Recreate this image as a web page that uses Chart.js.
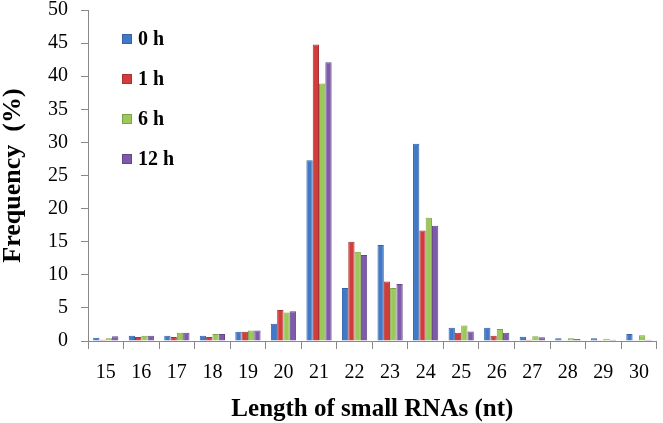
<!DOCTYPE html>
<html>
<head>
<meta charset="utf-8">
<script src="https://cdn.jsdelivr.net/npm/chart.js@4"></script>
<style>
  body { margin: 0; background: #fff; }
  #wrap { width: 663px; height: 423px; }
</style>
</head>
<body>
<div id="wrap"><canvas id="chart" width="663" height="423"></canvas></div>
<script>
// small RNA lengths (nt)
const lengths = ['15', '16', '17', '18', '19', '20', '21', '22', '23', '24', '25', '26', '27', '28', '29', '30'];

// frequency (%) per time point
const h0  = [0.5, 0.8, 0.8, 0.8, 1.4, 2.6, 27.3, 8.0, 14.5, 29.8, 2.0, 2.0, 0.65, 0.4, 0.4, 1.05];
const h1  = [0.2, 0.6, 0.6, 0.6, 1.4, 4.7, 44.8, 15.0, 9.0, 16.7, 1.25, 0.8, 0.2, 0.1, 0.1, 0.05];
const h6  = [0.4, 0.8, 1.25, 1.05, 1.6, 4.3, 38.9, 13.5, 8.0, 18.6, 2.35, 1.8, 0.7, 0.4, 0.35, 0.85];
const h12 = [0.7, 0.8, 1.25, 1.05, 1.6, 4.5, 42.1, 13.0, 8.6, 17.4, 1.45, 1.25, 0.55, 0.3, 0.2, 0.2];

const yTicks = [0, 5, 10, 15, 20, 25, 30, 35, 40, 45, 50];

const serif = "'Liberation Serif', 'Times New Roman', serif";

/*
 * legend drawn inside the plot, top-left, one item per row
 */
const innerLegend = {
  id: 'innerLegend',
  afterDraw(chart) {
    const ctx = chart.ctx;
    const area = chart.chartArea;
    ctx.save();
    ctx.font = 'bold 20px ' + serif;
    ctx.textBaseline = 'middle';
    chart.data.datasets.forEach((ds, i) => {
      const y = area.top + 29 + i * 40;
      const x = area.left + 34;
      ctx.fillStyle = ds.backgroundColor;
      ctx.fillRect(x, y - 5, 10, 10);
      ctx.strokeStyle = ds.borderColor;
      ctx.lineWidth = 1;
      ctx.strokeRect(x + 0.5, y - 4.5, 9, 9);
      ctx.fillStyle = '#000';
      ctx.fillText(ds.label, x + 16, y + 1);
    });
    ctx.restore();
  }
};

const makeSet = (label, data, fill, edge) => ({
  label: label,
  data: data,
  backgroundColor: fill,
  borderColor: edge,
  borderWidth: 1,
  categoryPercentage: 0.71,
  barPercentage: 1.0
});

new Chart(document.getElementById('chart').getContext('2d'), {
  type: 'bar',
  data: {
    labels: lengths,
    datasets: [
      makeSet('0 h', h0, '#4179c8', '#3563a6'),
      makeSet('1 h', h1, '#d23c3b', '#a83232'),
      makeSet('6 h', h6, '#9bc858', '#7ca446'),
      makeSet('12 h', h12, '#7d5baa', '#634689')
    ]
  },
  options: {
    responsive: false,
    animation: false,
    layout: {
      autoPadding: false,
      padding: { left: 0, right: 3, top: 10, bottom: 1 }
    },
    plugins: {
      legend: { display: false },
      tooltip: { enabled: false }
    },
    scales: {
      x: {
        grid: {
          offset: true,
          drawOnChartArea: false,
          drawTicks: true,
          tickLength: 8,
          color: '#888'
        },
        border: { color: '#888', width: 1 },
        ticks: {
          color: '#000',
          font: { family: serif, size: 20, lineHeight: 1.0 },
          padding: 14
        },
        title: {
          display: true,
          text: 'Length of small RNAs (nt)',
          color: '#000',
          font: { family: serif, size: 25, weight: 'bold', lineHeight: 1.0 },
          padding: { top: 0, bottom: 0 }
        }
      },
      y: {
        min: 0,
        max: 50,
        afterBuildTicks: axis => {
          axis.ticks = yTicks.map(v => ({ value: v }));
        },
        // the tick padding should not push the plot down from the top
        afterFit: axis => {
          axis.paddingTop = 0;
          axis.paddingBottom = 0;
        },
        grid: {
          drawOnChartArea: false,
          drawTicks: true,
          tickLength: 7,
          color: '#888'
        },
        border: { color: '#888', width: 1 },
        ticks: {
          color: '#000',
          font: { family: serif, size: 20, lineHeight: 1.0 },
          padding: 13
        },
        title: {
          display: true,
          text: 'Frequency  (%)',
          color: '#000',
          font: { family: serif, size: 26, weight: 'bold', lineHeight: 1.0 },
          padding: { top: 0, bottom: 9 }
        }
      }
    }
  },
  plugins: [innerLegend]
});
</script>
</body>
</html>
